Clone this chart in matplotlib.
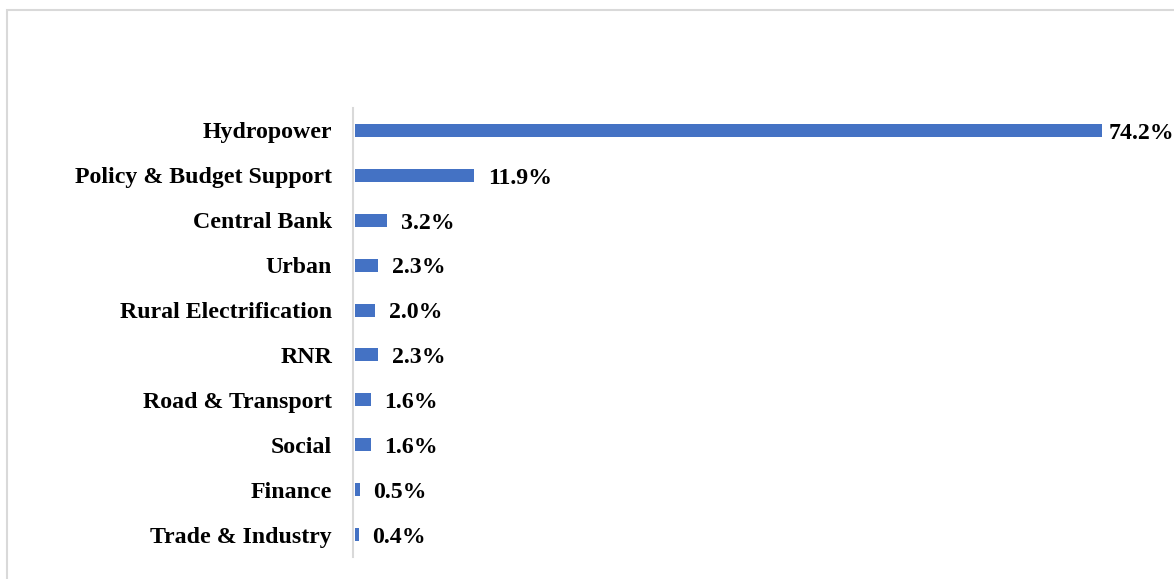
import matplotlib.pyplot as plt
from matplotlib.patches import Rectangle

sectors = ['Hydropower', 'Policy & Budget Support', 'Central Bank', 'Urban',
           'Rural Electrification', 'RNR', 'Road & Transport', 'Social',
           'Finance', 'Trade & Industry']
shares = [74.2, 11.9, 3.2, 2.3, 2.0, 2.3, 1.6, 1.6, 0.5, 0.4]

plt.rcParams['font.family'] = ['Liberation Serif', 'DejaVu Serif']
plt.rcParams['font.weight'] = 'bold'

fig = plt.figure(figsize=(11.74, 5.79), dpi=100)
ax = fig.add_axes([353 / 1174, 1 - 557 / 579, 806 / 1174, (557 - 108) / 579])

pos = list(range(len(sectors)))
ax.barh(pos, shares, height=0.29, color='#4472C4', left=0.15)
ax.set_ylim(len(sectors) - 0.5, -0.5)
ax.set_xlim(0, 80)

ax.set_yticks(pos)
ax.set_yticklabels(sectors, fontsize=17.2, fontweight='bold')
ax.tick_params(axis='y', length=0, pad=15)
ax.set_xticks([])

for s in ['top', 'right', 'bottom']:
    ax.spines[s].set_visible(False)
ax.spines['left'].set_color('#d9d9d9')
ax.spines['left'].set_linewidth(1.5)

for i, v in enumerate(shares):
    off = 5 if v == max(shares) else 10
    ax.annotate(f'{v:.1f}%', (v + 0.15, i), xytext=(off, -2), textcoords='offset points',
                va='center', ha='left', fontsize=17.2, fontweight='bold')

# chart area border
fig.patches.append(Rectangle((7 / 1174, -0.05), 1.1, 1 - 10 / 579 + 0.05,
                             transform=fig.transFigure, fill=False,
                             edgecolor='#d9d9d9', linewidth=1.5))

fig.savefig('out.png', dpi=100)
